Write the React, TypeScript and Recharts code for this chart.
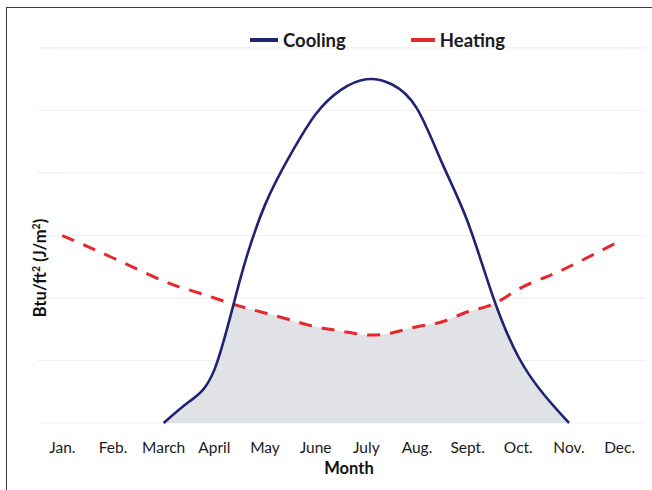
import React from 'react';
import { ComposedChart, Line, Area, XAxis, YAxis, CartesianGrid, Label, ReferenceLine } from 'recharts';

const months = ['Jan.', 'Feb.', 'March', 'April', 'May', 'June', 'July', 'Aug.', 'Sept.', 'Oct.', 'Nov.', 'Dec.'];
const monthTicks = [0, 1, 2, 3, 4, 5, 6, 7, 8, 9, 10, 11];
const yTicks = [0, 1, 2, 3, 4, 5, 6];
const upperGrid = [2, 3, 4, 5, 6];

// positions along the month axis (0 = Jan.) where values were read
const positions = [0, 1, 2, 2.5, 3, 3.5, 4, 4.5, 5, 5.5, 6, 6.5, 7, 7.5, 8, 8.5, 9, 9.5, 10, 11];
const heating = [3.0, 2.64, 2.27, 2.13, 2.0, 1.87, 1.76, 1.65, 1.54, 1.47, 1.41, 1.44, 1.54, 1.62, 1.78, 1.9, 2.14, 2.32, 2.5, 2.91];
const cooling = [null, null, 0, 0.34, 0.85, 2.27, 3.49, 4.29, 4.94, 5.33, 5.5, 5.42, 5.03, 4.15, 3.22, 2.02, 1.06, 0.46, 0, null];

const data = positions.map((x, i) => ({ x, heating: heating[i], cooling: cooling[i] }));

const FONT = 'Lato, "Open Sans", sans-serif';
const NAVY = '#1f2370';
const RED = '#e8262d';
const GRID = '#f1f1f1';

export default function App() {
  return (
    <div style={{ position: 'fixed', left: 0, top: 0, width: 652, height: 490, overflow: 'hidden', background: '#fff', fontFamily: FONT }}>
      <ComposedChart width={652} height={490} data={data} margin={{ top: 48, right: 7, bottom: 7, left: 37 }}>
        <CartesianGrid horizontal vertical={false} stroke={GRID} strokeWidth={1} />
        <XAxis
          type="number"
          dataKey="x"
          domain={[-0.5, 11.5]}
          ticks={monthTicks}
          tickFormatter={(v: number) => months[v]}
          axisLine={false}
          tickLine={false}
          tickSize={0}
          tickMargin={19}
          height={60}
          interval={0}
          tick={{ fill: '#1a1a1a', fontSize: 15.5, fontFamily: FONT }}
        >
          <Label value="Month" position="insideBottom" offset={9} dx={8} style={{ fontWeight: 700, fontSize: 16.5, fill: '#111', fontFamily: FONT }} />
        </XAxis>
        <YAxis hide domain={[0, 6]} ticks={yTicks} />
        {/* grey area under the cooling curve */}
        <Area
          type="natural"
          dataKey="cooling"
          stroke="none"
          fill="#e1e2e6"
          fillOpacity={1}
          baseValue={0}
          isAnimationActive={false}
          dot={false}
          activeDot={false}
        />
        {/* white mask above the heating curve keeps only the part under both curves */}
        <Area
          type="natural"
          dataKey="heating"
          stroke="none"
          fill="#ffffff"
          fillOpacity={1}
          baseValue={6}
          isAnimationActive={false}
          dot={false}
          activeDot={false}
        />
        {upperGrid.map((v) => (
          <ReferenceLine key={v} y={v} stroke={GRID} strokeWidth={1} />
        ))}
        <Line
          type="natural"
          dataKey="heating"
          stroke={RED}
          strokeWidth={3}
          strokeDasharray="13 10"
          dot={false}
          activeDot={false}
          isAnimationActive={false}
        />
        <Line
          type="natural"
          dataKey="cooling"
          stroke={NAVY}
          strokeWidth={2.6}
          dot={false}
          activeDot={false}
          isAnimationActive={false}
        />
      </ComposedChart>

      <div style={{ position: 'absolute', left: 6, top: 7, width: 700, height: 600, borderTop: '1.5px solid #3a3a3a', borderLeft: '1.5px solid #3a3a3a', pointerEvents: 'none' }} />

      <div style={{ position: 'absolute', left: 250, top: 28, display: 'flex', alignItems: 'center', fontWeight: 700, fontSize: 18.5, color: '#1a1a1a', whiteSpace: 'nowrap', lineHeight: '24px' }}>
        <span style={{ display: 'inline-block', width: 28, height: 3.5, background: NAVY, marginRight: 5 }} />
        <span>Cooling</span>
        <span style={{ display: 'inline-block', width: 24, height: 3.5, background: RED, marginLeft: 65, marginRight: 5 }} />
        <span>Heating</span>
      </div>

      <div style={{ position: 'absolute', left: 40, top: 268, transform: 'translate(-50%, -50%) rotate(-90deg)', fontWeight: 700, fontSize: 16.5, color: '#111', whiteSpace: 'nowrap', lineHeight: '18px' }}>
        Btu/ft<sup style={{ fontSize: 10.5, verticalAlign: 'super', lineHeight: 0 }}>2</sup> (J/m<sup style={{ fontSize: 10.5, verticalAlign: 'super', lineHeight: 0 }}>2</sup>)
      </div>
    </div>
  );
}
